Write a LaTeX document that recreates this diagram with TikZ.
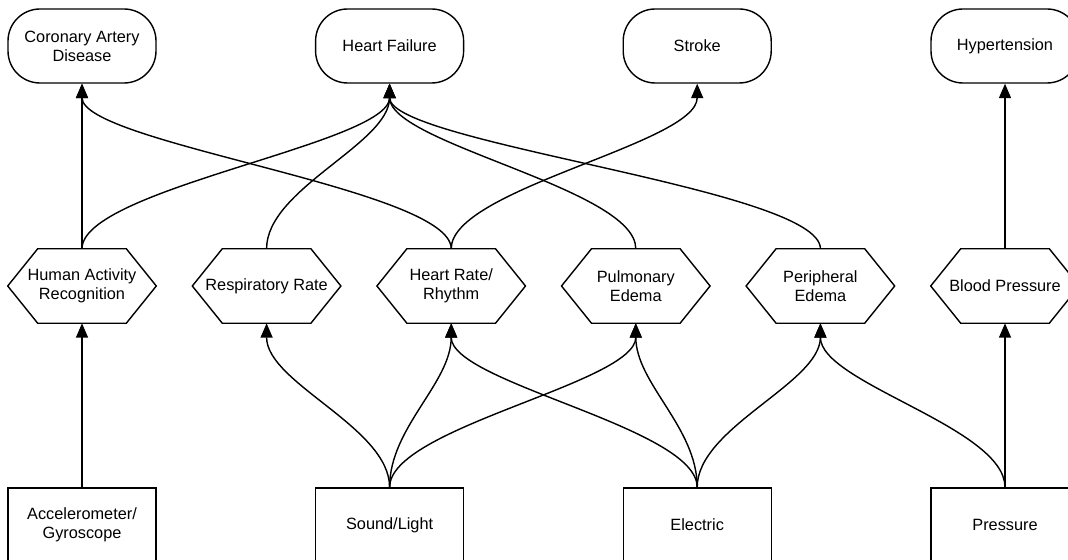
\documentclass[tikz,border=0pt]{standalone}
\usepackage{fontspec}
\setmainfont{Liberation Sans}
\usepackage{tikz}
\usetikzlibrary{shapes,arrows.meta}

\begin{document}
\begin{tikzpicture}[>={Triangle[length=0.36cm,width=0.3cm]},
	every node/.style={font=\fontsize{11.6}{13.5}\selectfont, align=center},
	disease/.style={draw,rectangle,rounded corners=0.8cm,minimum width=3.7cm,minimum height=1.85cm,line width=1pt},
	measure/.style={rectangle,minimum width=3.7cm,minimum height=1.85cm,inner sep=0pt},
	sensor/.style={draw,rectangle,minimum width=3.7cm,minimum height=1.85cm,line width=1pt},
	link/.style={->,line width=1pt}]
		\useasboundingbox (0,0) rectangle (26.7,14);
		% diseases
		\node (cad)    [disease] at (2.05,12.85)   {Coronary Artery\\Disease};
		\node (hf)     [disease] at (9.74,12.85)   {Heart Failure};
		\node (stroke) [disease] at (17.43,12.85)  {Stroke};
		\node (hyp)    [disease] at (25.125,12.85) {Hypertension};
		% measured quantities
		\node (har)    [measure] at (2.05,6.85)   {Human Activity\\Recognition};
		\node (resp)   [measure] at (6.665,6.85)  {Respiratory Rate};
		\node (hr)     [measure] at (11.28,6.85)  {Heart Rate/\\Rhythm};
		\node (pulm)   [measure] at (15.895,6.85) {Pulmonary\\Edema};
		\node (periph) [measure] at (20.51,6.85)  {Peripheral\\Edema};
		\node (bp)     [measure] at (25.125,6.85) {Blood Pressure};
		\foreach \n in {har,resp,hr,pulm,periph,bp}
			\draw [line width=1pt] (\n.west) -- ([xshift=0.75cm]\n.north west) -- ([xshift=-0.75cm]\n.north east)
				-- (\n.east) -- ([xshift=-0.75cm]\n.south east) -- ([xshift=0.75cm]\n.south west) -- cycle;
		% sensors
		\node (accel)  [sensor] at (2.05,0.875)   {Accelerometer/\\Gyroscope};
		\node (sound)  [sensor] at (9.74,0.875)   {Sound/Light};
		\node (elec)   [sensor] at (17.43,0.875)  {Electric};
		\node (press)  [sensor] at (25.125,0.875) {Pressure};
		% sensors to quantities
		\draw [link] (accel.north) -- (har.south);
		\draw [link] (sound.north) .. controls +(0,1.5) and +(0,-1.5) .. (resp.south);
		\draw [link] (sound.north) .. controls +(0,1.5) and +(0,-1.5) .. (hr.south);
		\draw [link] (sound.north) .. controls +(0,1.5) and +(0,-1.5) .. (pulm.south);
		\draw [link] (elec.north) .. controls +(0,1.5) and +(0,-1.5) .. (hr.south);
		\draw [link] (elec.north) .. controls +(0,1.5) and +(0,-1.5) .. (pulm.south);
		\draw [link] (elec.north) .. controls +(0,1.5) and +(0,-1.5) .. (periph.south);
		\draw [link] (press.north) .. controls +(0,1.5) and +(0,-1.5) .. (periph.south);
		\draw [link] (press.north) -- (bp.south);
		% quantities to diseases
		\draw [link] (har.north) -- (cad.south);
		\draw [link] (har.north) .. controls +(0,1.5) and +(0,-1.5) .. (hf.south);
		\draw [link] (resp.north) .. controls +(0,1.5) and +(0,-1.5) .. (hf.south);
		\draw [link] (hr.north) .. controls +(0,1.5) and +(0,-1.5) .. (cad.south);
		\draw [link] (hr.north) .. controls +(0,1.5) and +(0,-1.5) .. (stroke.south);
		\draw [link] (pulm.north) .. controls +(0,1.5) and +(0,-1.5) .. (hf.south);
		\draw [link] (periph.north) .. controls +(0,1.5) and +(0,-1.5) .. (hf.south);
		\draw [link] (bp.north) -- (hyp.south);
\end{tikzpicture}
\end{document}
